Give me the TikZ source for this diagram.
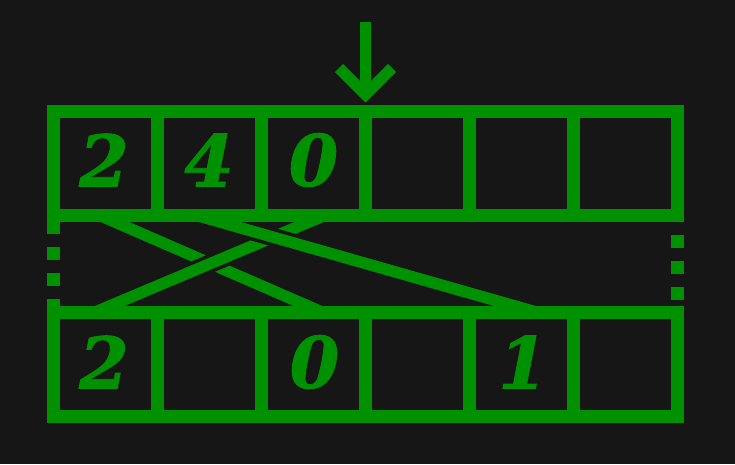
\documentclass[tikz,border=0pt]{standalone}
\usepackage{fontspec}
\newfontfamily\digitfont{DejaVu Serif}[BoldItalicFeatures={FakeBold=1.3}]
\definecolor{bg}{HTML}{161616}
\definecolor{grn}{HTML}{009100}
\tikzset{
  gridline/.style={draw=grn, line width=13pt, line join=miter},
  sideline/.style={draw=grn, line width=13pt, dash pattern=on 13pt off 13pt},
  crossline/.style={draw=grn, line width=11.5pt},
  haloline/.style={crossline, preaction={draw=bg, line width=18.5pt}},
  digit/.style={text=grn, inner sep=0pt, font=\digitfont\bfseries\itshape\fontsize{71}{71}\selectfont},
  arrowline/.style={draw=grn, line width=11.5pt, line join=miter}
}
\begin{document}
\begin{tikzpicture}[x=1pt, y=-1pt]
\useasboundingbox[fill=bg] (0,0) rectangle (735,464);
% endpoints of the crossing connectors
\coordinate (ta) at (98.9,215);
\coordinate (ba) at (322.9,312.5);
\coordinate (tb) at (325.6,215);
\coordinate (bb) at (94.2,312.5);
\coordinate (tc) at (195.4,215);
\coordinate (bc) at (537.8,312.5);
\draw[crossline] (ta) -- (ba);
\draw[haloline] (tb) -- (bb);
\draw[haloline] (tc) -- (bc);
% top row
\coordinate (tl) at (53.5,111.5);
\coordinate (tr) at (677.5,215);
\draw[gridline] (tl) rectangle (tr);
\foreach \x in {157.5,261.5,365.5,469.5,573.5} \draw[gridline] (\x,111.5) -- (\x,215);
% bottom row
\coordinate (bl) at (53.5,312.5);
\coordinate (br) at (677.5,416.5);
\draw[gridline] (bl) rectangle (br);
\foreach \x in {157.5,261.5,365.5,469.5,573.5} \draw[gridline] (\x,312.5) -- (\x,416.5);
% dotted sides
\coordinate (ls) at (53.5,221);
\coordinate (le) at (53.5,312.5);
\coordinate (rs) at (677.5,235);
\coordinate (re) at (677.5,300);
\draw[sideline] (ls) -- (le);
\draw[sideline] (rs) -- (re);
% digits
\node[digit] (t0) at (104,160) {2};
\node[digit] (t1) at (209,160) {4};
\node[digit] (t2) at (313.5,160) {0};
\node[digit] (b0) at (104,362) {2};
\node[digit] (b2) at (314.5,362) {0};
\node[digit] (b4) at (523,362) {1};
% arrow
\coordinate (as) at (365.5,22);
\coordinate (ae) at (365.5,96);
\coordinate (wl) at (339,68);
\coordinate (wt) at (365.5,94.5);
\coordinate (wr) at (392,68);
\draw[arrowline] (as) -- (ae);
\draw[arrowline] (wl) -- (wt) -- (wr);
\end{tikzpicture}
\end{document}
